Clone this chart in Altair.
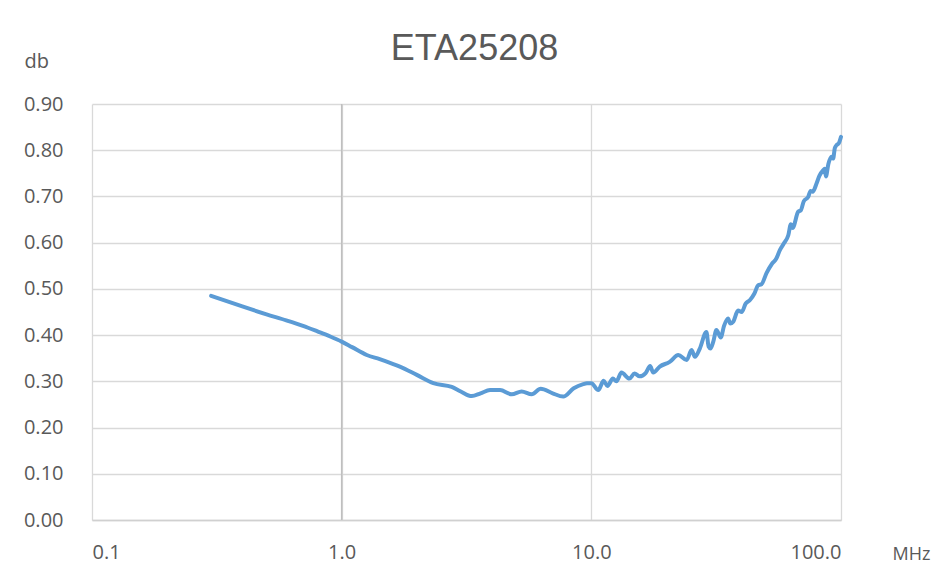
import altair as alt
import pandas as pd

freq_mhz = [0.3, 0.4, 0.5, 0.6, 0.7, 0.8, 0.9, 1.0, 1.1, 1.26, 1.42, 1.6, 1.71, 2.0,
            2.33, 2.76, 3.0, 3.32, 3.6, 3.93, 4.31, 4.8, 5.26, 5.77, 6.27, 7.0, 7.72,
            8.5, 9.28, 9.6, 10.0, 10.66, 11.2, 11.6, 12.2, 12.6, 13.2, 14.2, 14.9, 15.6,
            16.5, 17.2, 17.7, 18.8, 20.6, 22.3, 24.1, 25.2, 26.0, 27.2, 28.9, 29.5, 30.0,
            30.8, 31.7, 33.0, 34.0, 35.3, 36.0, 37.0, 38.7, 40.0, 41.5, 43.2, 45.0, 46.6,
            48.0, 50.3, 53.0, 55.0, 56.9, 59.0, 61.5, 63.0, 64.0, 67.4, 69.0, 71.0, 73.9,
            75.5, 77.0, 79.8, 82.0, 84.9, 86.0, 87.0, 89.0, 91.6, 93.0, 94.5, 96.0, 98.0,
            100.0]
loss_db = [0.485, 0.462, 0.445, 0.432, 0.420, 0.408, 0.397, 0.386, 0.374, 0.357, 0.348,
           0.338, 0.332, 0.314, 0.296, 0.288, 0.278, 0.268, 0.274, 0.281, 0.281, 0.272,
           0.278, 0.272, 0.284, 0.274, 0.267, 0.285, 0.294, 0.296, 0.296, 0.281, 0.301,
           0.290, 0.306, 0.300, 0.319, 0.306, 0.317, 0.311, 0.318, 0.333, 0.319, 0.332,
           0.342, 0.357, 0.346, 0.368, 0.353, 0.371, 0.407, 0.375, 0.371, 0.386, 0.411,
           0.395, 0.420, 0.436, 0.425, 0.429, 0.453, 0.450, 0.468, 0.476, 0.490, 0.508,
           0.510, 0.534, 0.555, 0.565, 0.584, 0.598, 0.616, 0.640, 0.632, 0.667, 0.670,
           0.690, 0.699, 0.712, 0.710, 0.728, 0.745, 0.757, 0.760, 0.743, 0.770, 0.786,
           0.782, 0.805, 0.811, 0.815, 0.829]

x_ticks = [0.1, 1.0, 10.0, 100.0]
y_ticks = [0.0, 0.1, 0.2, 0.3, 0.4, 0.5, 0.6, 0.7, 0.8, 0.9]
axis_cross = [1.0]

df = pd.DataFrame({"f": freq_mhz, "v": loss_db})
cross_df = pd.DataFrame({"f": axis_cross})

xscale = alt.Scale(type="log", domain=[0.1, 100])
yscale = alt.Scale(domain=[0, 0.9])

line = alt.Chart(df).mark_line(
    color="#5B9BD5", strokeWidth=4, interpolate="monotone", strokeCap="round", strokeJoin="round"
).encode(
    x=alt.X("f:Q", scale=xscale,
            axis=alt.Axis(values=x_ticks, format=".1f", title="MHz", titleAngle=0,
                          titleAlign="left", titleBaseline="alphabetic", titleX=800, titleY=39,
                          titleFontSize=18,
                          grid=True, gridColor="#D9D9D9", gridWidth=1.3,
                          domainColor="#D0D0D0", domainWidth=1.5, ticks=False,
                          labelPadding=22)),
    y=alt.Y("v:Q", scale=yscale,
            axis=alt.Axis(values=y_ticks, format=".2f", title="db", titleAngle=0,
                          titleAlign="left", titleBaseline="alphabetic", titleX=-68, titleY=-37,
                          grid=True, gridColor="#D9D9D9", gridWidth=1.3,
                          domain=False, ticks=False, labelPadding=29)),
)

cross = alt.Chart(cross_df).mark_rule(color="#BFBFBF", strokeWidth=1.5).encode(
    x=alt.X("f:Q", scale=xscale)
)

chart = alt.layer(cross, line).properties(
    width=749, height=416,
    title=alt.TitleParams("ETA25208", fontSize=36, font="Liberation Sans", color="#595959",
                          fontWeight="normal", anchor="middle", offset=-17, dx=8),
    autosize=alt.AutoSizeParams(type="none"),
    padding={"left": 84, "top": 96, "right": 90, "bottom": 50},
).configure_axis(
    labelFont="Open Sans", labelFontSize=20, labelColor="#595959",
    titleFont="Open Sans", titleFontSize=20, titleColor="#595959", titleFontWeight="normal",
).configure_view(stroke=None)

chart.save("out.html", embed_options={"renderer": "svg", "actions": False})
